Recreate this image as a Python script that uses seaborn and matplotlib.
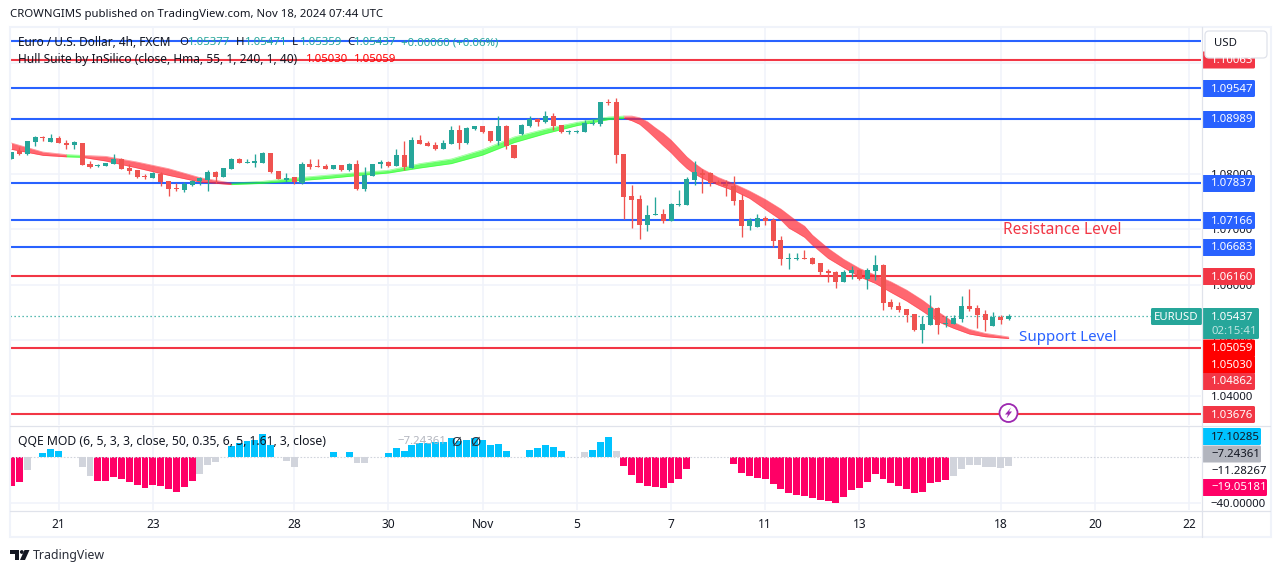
import matplotlib
matplotlib.use("Agg")
import matplotlib.pyplot as plt
import matplotlib.patches as mpatches
import numpy as np
import pandas as pd
import seaborn as sns

# Candles
opens = [1.08263, 1.08407, 1.08347, 1.08563, 1.08659, 1.08563, 1.08635, 1.08557, 1.08515, 1.08557,
         1.08173, 1.08137, 1.08137, 1.08173, 1.08257, 1.08095, 1.08059, 1.07945, 1.07915, 1.07999,
         1.07867, 1.07735, 1.07699, 1.07789, 1.07873, 1.07891, 1.08029, 1.07933, 1.08083, 1.08263,
         1.08191, 1.08191, 1.08197, 1.08365, 1.08041, 1.07879, 1.07933, 1.07837, 1.08167, 1.08125,
         1.08137, 1.08083, 1.08149, 1.08059, 1.08167, 1.07729, 1.07957, 1.08167, 1.08209, 1.08131,
         1.08329, 1.08107, 1.08599, 1.08545, 1.08509, 1.08443, 1.08533, 1.08779, 1.08551, 1.08803,
         1.08851, 1.08761, 1.08581, 1.08851, 1.08509, 1.08707, 1.08851, 1.08977, 1.08929, 1.09031,
         1.08869, 1.08743, 1.08743, 1.08743, 1.08887, 1.08887, 1.09289, 1.09283, 1.08347, 1.07591,
         1.07537, 1.07069, 1.07249, 1.07267, 1.07141, 1.07429, 1.07429, 1.07879, 1.08005, 1.08005,
         1.07843, 1.07807, 1.07771, 1.07519, 1.07051, 1.07033, 1.07195, 1.07159, 1.06799, 1.06463,
         1.06463, 1.06469, 1.06475, 1.06385, 1.06241, 1.06223, 1.06043, 1.06205, 1.06259, 1.06097,
         1.06241, 1.06349, 1.05683, 1.05611, 1.05557, 1.05467, 1.05179, 1.05269, 1.05575, 1.05287,
         1.05287, 1.05377, 1.05611, 1.05575, 1.05467, 1.05251, 1.05413, 1.05377]
highs = [1.08383, 1.08479, 1.08581, 1.08671, 1.08683, 1.08707, 1.08671, 1.08611, 1.08587, 1.08557,
         1.08221, 1.08179, 1.08197, 1.08359, 1.08287, 1.08179, 1.08071, 1.07987, 1.08035, 1.08023,
         1.07867, 1.07831, 1.07843, 1.07891, 1.07939, 1.08059, 1.08041, 1.08101, 1.08275, 1.08275,
         1.08263, 1.08347, 1.08389, 1.08365, 1.08041, 1.08005, 1.07945, 1.08203, 1.08257, 1.08257,
         1.08179, 1.08149, 1.08161, 1.08185, 1.08239, 1.08119, 1.08173, 1.08251, 1.08233, 1.08437,
         1.08581, 1.08659, 1.08689, 1.08581, 1.08563, 1.08611, 1.08851, 1.08869, 1.08833, 1.08851,
         1.08863, 1.08761, 1.09031, 1.08869, 1.08509, 1.08887, 1.09031, 1.08995, 1.09121, 1.09085,
         1.08869, 1.08785, 1.08785, 1.08959, 1.08989, 1.09283, 1.09337, 1.09355, 1.08347, 1.07789,
         1.07609, 1.07429, 1.07573, 1.07357, 1.07465, 1.07699, 1.07933, 1.08221, 1.08077, 1.08023,
         1.07879, 1.07879, 1.07951, 1.07627, 1.07195, 1.07267, 1.07231, 1.07195, 1.06871, 1.06565,
         1.06565, 1.06619, 1.06493, 1.06385, 1.06277, 1.06241, 1.06259, 1.06331, 1.06277, 1.06295,
         1.06529, 1.06367, 1.05737, 1.05683, 1.05557, 1.05467, 1.05431, 1.05809, 1.05593, 1.05431,
         1.05449, 1.05791, 1.05917, 1.05629, 1.05539, 1.05503, 1.05449, 1.05471]
lows = [1.08263, 1.08329, 1.08335, 1.08491, 1.08587, 1.08563, 1.08551, 1.08443, 1.08437, 1.08155,
        1.08107, 1.08113, 1.08137, 1.08173, 1.08083, 1.07987, 1.07927, 1.07897, 1.07915, 1.07777,
        1.07597, 1.07687, 1.07675, 1.07783, 1.07789, 1.07687, 1.07831, 1.07933, 1.08083, 1.08185,
        1.08191, 1.08119, 1.08191, 1.08011, 1.07897, 1.07849, 1.07813, 1.07819, 1.08077, 1.08113,
        1.08077, 1.08083, 1.08053, 1.08047, 1.07699, 1.07681, 1.07957, 1.08101, 1.08119, 1.08131,
        1.08059, 1.08095, 1.08533, 1.08491, 1.08425, 1.08443, 1.08533, 1.08443, 1.08533, 1.08779,
        1.08731, 1.08563, 1.08515, 1.08443, 1.08281, 1.08689, 1.08833, 1.08851, 1.08911, 1.08779,
        1.08731, 1.08713, 1.08731, 1.08743, 1.08869, 1.08851, 1.09229, 1.08185, 1.07177, 1.07015,
        1.06817, 1.06961, 1.07249, 1.07105, 1.07141, 1.07411, 1.07429, 1.07789, 1.07645, 1.07771,
        1.07807, 1.07591, 1.07429, 1.06853, 1.06979, 1.07033, 1.07069, 1.06673, 1.06349, 1.06277,
        1.06439, 1.06457, 1.06367, 1.06151, 1.06043, 1.05935, 1.06043, 1.06097, 1.06079, 1.05917,
        1.06079, 1.05539, 1.05557, 1.05503, 1.05323, 1.05161, 1.04945, 1.05269, 1.05107, 1.05233,
        1.05287, 1.05323, 1.05521, 1.05215, 1.05161, 1.05251, 1.05287, 1.05359]
closes = [1.08383, 1.08347, 1.08581, 1.08659, 1.08635, 1.08635, 1.08551, 1.08509, 1.08563, 1.08155,
          1.08119, 1.08155, 1.08185, 1.08257, 1.08083, 1.08047, 1.07939, 1.07933, 1.08011, 1.07849,
          1.07717, 1.07723, 1.07819, 1.07873, 1.07921, 1.08029, 1.07933, 1.08095, 1.08263, 1.08191,
          1.08203, 1.08221, 1.08371, 1.08023, 1.07897, 1.07927, 1.07849, 1.08179, 1.08119, 1.08113,
          1.08083, 1.08149, 1.08059, 1.08173, 1.07729, 1.07969, 1.08173, 1.08215, 1.08131, 1.08329,
          1.08119, 1.08599, 1.08533, 1.08497, 1.08443, 1.08545, 1.08779, 1.08551, 1.08815, 1.08851,
          1.08749, 1.08581, 1.08851, 1.08497, 1.08281, 1.08869, 1.08977, 1.08929, 1.09031, 1.08851,
          1.08743, 1.08755, 1.08755, 1.08905, 1.08905, 1.09283, 1.09271, 1.08329, 1.07573, 1.07519,
          1.07069, 1.07249, 1.07267, 1.07141, 1.07447, 1.07447, 1.07897, 1.08023, 1.07981, 1.07825,
          1.07807, 1.07771, 1.07501, 1.07051, 1.07159, 1.07195, 1.07141, 1.06781, 1.06457, 1.06475,
          1.06475, 1.06457, 1.06367, 1.06223, 1.06205, 1.06043, 1.06223, 1.06259, 1.06097, 1.06259,
          1.06349, 1.05665, 1.05593, 1.05539, 1.05449, 1.05179, 1.05287, 1.05575, 1.05269, 1.05305,
          1.05395, 1.05611, 1.05557, 1.05449, 1.05359, 1.05413, 1.05359, 1.05437]

# Hull Suite ribbon, the two edges at some bars
hma_bars = [0, 4, 7, 9, 12, 16, 20, 24, 28, 32, 36, 40, 44, 48, 52, 56, 60, 64, 68, 72, 76,
            78, 79, 80, 81, 82, 83, 84, 85, 86, 87, 88, 90, 92, 94, 96, 98, 99, 100, 101, 102,
            104, 106, 108, 110, 112, 114, 116, 118, 120, 122, 124, 127]
hma_top = [1.08551, 1.08389, 1.08342, 1.08329, 1.08311, 1.08209, 1.08090, 1.07928, 1.07831, 1.07861,
           1.07921, 1.07969, 1.08018, 1.08059, 1.08180, 1.08263, 1.08432, 1.08659, 1.08803, 1.08923, 1.09019,
           1.09037, 1.09037, 1.09007, 1.08935, 1.08826, 1.08726, 1.08605, 1.08456, 1.08304, 1.08185,
           1.08083, 1.07933, 1.07818, 1.07687, 1.07537, 1.07362, 1.07254, 1.07146, 1.07056, 1.06894,
           1.06655, 1.06457, 1.06295, 1.06174, 1.06053, 1.05904, 1.05724, 1.05513, 1.05322, 1.05196,
           1.05124, 1.05059]
hma_bot = [1.08437, 1.08329, 1.08302, 1.08293, 1.08227, 1.08101, 1.07969, 1.07849, 1.07802, 1.07825,
           1.07867, 1.07910, 1.07964, 1.08011, 1.08101, 1.08180, 1.08335, 1.08558, 1.08720, 1.08864, 1.08972,
           1.08996, 1.08953, 1.08888, 1.08767, 1.08636, 1.08503, 1.08376, 1.08227, 1.08095, 1.07993,
           1.07915, 1.07795, 1.07692, 1.07555, 1.07357, 1.07164, 1.07020, 1.06939, 1.06853, 1.06714,
           1.06475, 1.06305, 1.06143, 1.06024, 1.05862, 1.05706, 1.05525, 1.05333, 1.05214, 1.05111,
           1.05063, 1.05030]

# Horizontal levels
blue_levels = [1.10388, 1.09547, 1.08989, 1.07837, 1.07166, 1.06683]
red_levels = [1.10046, 1.06160, 1.04862, 1.03676]
last_price = 1.05437

# QQE MOD histogram, 0 = no bar
qqe_values = [-24.8, -21.3, -11, 0, 3.7, 7.2, 5.5, 0, 0, -8.4,
              -16, -20.5, -20.5, -17, -18.7, -21.3, -24, -26.5, -24, -24.8,
              -27.4, -30, -25.6, -20.5, -14.4, -6.6, -4, 0, 9.8, 12.4,
              14.1, 15, 20.2, 10.7, 0, -3.2, -8.4, 0, 0, 0,
              0, 4.6, 0, 4.6, -4.9, -4.9, 0, 0, 3.7, 8,
              5.5, 10.7, 12.4, 12.4, 13.3, 13.3, 16.7, 14.1, 15, 16.7,
              15, 10.7, 11.5, 5.5, 0, 0, 6.3, 8, 10.7, 8.9,
              5.5, 0, 0, 4.6, 6.3, 13.3, 17.6, 5.5, -7.5, -15.3,
              -22.2, -24.8, -25.6, -26.5, -22.2, -18.7, -10, 0, 0, 0,
              0, 0, -5.8, -13.5, -16.1, -17.9, -18.7, -23, -27.4, -30.8,
              -32.6, -33.4, -35.2, -36.9, -37.8, -39.5, -34.3, -28.2, -26.5, -21.3,
              -14.4, -18.7, -22.2, -24.8, -27.4, -30.8, -30, -22.2, -21.3, -19.6,
              -16.1, -10, -6.6, -6.6, -8.4, -8.4, -9.2, -7.5]
# p = pink, b = blue, g = grey, n = none
qqe_kinds = list("ppgnbbbnngg" + "p" * 13 + "gggn" + "bbbbbb" + "n" + "gg" + "nnnn" + "bnb" + "gg" + "nn"
                 + "b" * 16 + "nn" + "bbbbb" + "nn" + "g" + "bbb" + "g" + "p" * 9 + "n" * 5 + "p" * 28 + "g" * 8)

date_bars = [6, 18, 36, 48, 60, 72, 84, 96, 108, 126, 138, 150]
date_labels = ["21", "23", "28", "30", "Nov", "5", "7", "11", "13", "18", "20", "22"]
price_ticks = [1.10, 1.08, 1.07, 1.06, 1.05, 1.04]

UP = "#26a69a"
DOWN = "#ef5350"
BLUE = "#2962ff"
RED = "#f23645"
INK = "#131722"
GRID = "#f0f3fa"
EDGE = "#e0e3eb"

sns.set_theme(style="white")
plt.rcParams["font.family"] = ["Noto Sans", "DejaVu Sans"]

W, H = 1281, 573
fig = plt.figure(figsize=(W / 100, H / 100), dpi=100, facecolor="white")


# axes placed by pixel box
def pane(x0, y0, x1, y1):
    return fig.add_axes([x0 / W, 1 - y1 / H, (x1 - x0) / W, (y1 - y0) / H])


ax = pane(10, 27, 1201, 425)
qq = pane(10, 426, 1201, 510)

bars = np.arange(len(opens))
opens_a, highs_a, lows_a, closes_a = map(np.array, (opens, highs, lows, closes))
up = closes_a >= opens_a

# price pane
for lvl in blue_levels:
    ax.axhline(lvl, color=BLUE, lw=1.5, zorder=2)
for lvl in red_levels:
    ax.axhline(lvl, color=RED, lw=1.5, zorder=2)
ax.axhline(last_price, color=UP, lw=0.9, ls=(0, (1, 2.2)), zorder=2)

hma = pd.DataFrame({"bar": hma_bars, "top": hma_top, "bot": hma_bot})
segments = [(0, 7, "#ff1f2d"), (7, 9, "#22ff22"), (9, 28, "#ff1f2d"), (28, 78, "#22ff22"), (78, 127, "#ff1f2d")]
for start, stop, col in segments:
    part = hma[(hma["bar"] >= start) & (hma["bar"] <= stop)]
    ax.fill_between(part["bar"], part["bot"], part["top"], color=col, alpha=0.68, lw=0, zorder=3)
    sns.lineplot(data=part, x="bar", y="top", color=col, alpha=0.5, lw=0.5, ax=ax, zorder=3, estimator=None)
    sns.lineplot(data=part, x="bar", y="bot", color=col, alpha=0.5, lw=0.5, ax=ax, zorder=3, estimator=None)

colors = np.where(up, UP, DOWN)
ax.vlines(bars, lows_a, highs_a, colors=colors, lw=0.95, zorder=4)
body_low = np.minimum(opens_a, closes_a)
body_h = np.maximum(np.abs(closes_a - opens_a), 0.00016)
ax.bar(bars, body_h, bottom=body_low, width=0.64, color=colors, lw=0, zorder=4)

ax.set_xlim(-0.19, 151.5)
ax.set_ylim(1.03473, 1.10640)
ax.set_xlabel("")
ax.set_ylabel("")
ax.set_xticks(date_bars)
ax.set_xticklabels([])
ax.yaxis.tick_right()
ax.set_yticks(price_ticks)
ax.set_yticklabels([f"{t:.5f}" for t in price_ticks], fontsize=8.2, color=INK)
ax.tick_params(axis="both", length=0, pad=7)
ax.grid(True, color=GRID, lw=1.1, zorder=0)
ax.set_axisbelow(True)
sns.despine(ax=ax, left=True, right=True, top=True, bottom=True)

# QQE pane
qqe = pd.DataFrame({"bar": bars, "value": qqe_values, "kind": qqe_kinds})
qqe = qqe[qqe["kind"] != "n"]
sns.barplot(data=qqe, x="bar", y="value", hue="kind", palette={"p": "#ff0066", "b": "#00c3ff", "g": "#d1d4dc"},
            native_scale=True, dodge=False, width=0.88, linewidth=0, orient="x", errorbar=None,
            saturation=1, legend=False, ax=qq, zorder=3)
qq.axhline(0, color="#d1d4dc", lw=0.8, ls=(0, (1.5, 1.5)), zorder=4)
qq.set_xlim(-0.19, 151.5)
qq.set_ylim(-45.8, 27.2)
qq.set_xlabel("")
qq.set_ylabel("")
qq.set_xticks(date_bars)
qq.set_xticklabels(date_labels, fontsize=8.6, color=INK)
qq.get_xticklabels()[4].set_fontweight("semibold")
qq.yaxis.tick_right()
qq.set_yticks([-40])
qq.set_yticklabels(["\u221240.00000"], fontsize=8.2, color=INK)
qq.tick_params(axis="y", length=0, pad=7)
qq.tick_params(axis="x", length=0, pad=6)
qq.grid(True, color=GRID, lw=1.1, zorder=0)
qq.set_axisbelow(True)
sns.despine(ax=qq, left=True, right=True, top=True, bottom=True)

# overlay in pixel coordinates for the chart furniture
ov = fig.add_axes([0, 0, 1, 1], zorder=10)
ov.set_xlim(0, W)
ov.set_ylim(H, 0)
ov.axis("off")
ov.patch.set_visible(False)


def label(x, y, s, color=INK, size=8.2, ha="left", **kw):
    return ov.text(x, y + 0.8, s, color=color, fontsize=size, ha=ha, va="center", **kw)


def tag(y0, y1, s, bg, fg="white", x0=1202, x1=1255, tx=1211):
    ov.add_patch(mpatches.FancyBboxPatch((x0, y0), x1 - x0, y1 - y0, boxstyle="round,pad=0,rounding_size=1.5",
                                         fc=bg, ec="none"))
    label(tx, (y0 + y1) / 2 - 0.3, s, color=fg)


# outer frame and separators
ov.add_patch(mpatches.Rectangle((9.5, 26.5), 1261, 510.5, fc="none", ec=GRID, lw=1.5))
ov.plot([1201.5, 1201.5], [27, 537], color=EDGE, lw=0.9)
ov.plot([10, 1270], [425.5, 425.5], color=EDGE, lw=0.9)
ov.plot([10, 1270], [510.5, 510.5], color=EDGE, lw=0.9)

label(10, 14, "CROWNGIMS published on TradingView.com, Nov 18, 2024 07:44 UTC", size=8.2)

label(18, 42, "Euro / U.S. Dollar, 4h, FXCM", size=8.5)
for x, s, c in [(179, "O", INK), (188, "1.05377", UP), (236, "H", INK), (245, "1.05471", UP),
                (292, "L", INK), (300, "1.05359", UP), (347, "C", INK), (354, "1.05437", UP),
                (401, "+0.00060 (+0.06%)", UP)]:
    label(x, 42, s, color=c, size=8.2)
label(18, 59, "Hull Suite by InSilico (close, Hma, 55, 1, 240, 1, 40)", size=8.6)
label(306, 59, "1.05030", color="#ff0000", size=8.2)
label(354, 59, "1.05059", color="#ff0000", size=8.2)

label(18, 441, "QQE MOD (6, 5, 3, 3, close, 50, 0.35, 6, 5, 1.61, 3, close)", size=8.8)
label(397, 441, "\u22127.24361", color="#b2b5be", size=8.2)
label(456, 441, "\u00d8", color="#2a2e39", size=9.5, ha="center")
label(475, 441, "\u00d8", color="#2a2e39", size=9.5, ha="center")

label(1003, 229.5, "Resistance Level", color=RED, size=11.1)
label(1019, 336.5, "Support Level", color=BLUE, size=10.9)

# price tags
tag(51.5, 68.5, "1.10063", RED)
ov.add_patch(mpatches.FancyBboxPatch((1205, 31), 62, 27, boxstyle="round,pad=0,rounding_size=4",
                                     fc="white", ec=EDGE, lw=0.9))
label(1214, 43, "USD", size=8.2)
tag(80, 97, "1.09547", BLUE)
tag(111, 128, "1.08989", BLUE)
tag(175, 192, "1.07837", BLUE)
tag(212, 229, "1.07166", BLUE)
tag(239, 256, "1.06683", BLUE)
tag(268, 285, "1.06160", RED)

ov.add_patch(mpatches.FancyBboxPatch((1151, 308), 51, 17, boxstyle="round,pad=0,rounding_size=1.5", fc=UP, ec="none"))
label(1176.5, 316.2, "EURUSD", color="white", ha="center")
ov.add_patch(mpatches.FancyBboxPatch((1202, 308), 57, 31, boxstyle="round,pad=0,rounding_size=1.5", fc=UP, ec="none"))
label(1211, 316.2, "1.05437", color="white")
label(1211, 331, "02:15:41", color="#bfe5e1")

tag(339.5, 357, "1.05059", "#ff0000")
tag(356, 374, "1.05030", "#ff0000")
tag(373, 390, "1.04862", RED)
tag(406, 423, "1.03676", RED)
tag(428, 445, "17.10285", "#00c3ff", fg=INK, x1=1261)
tag(445.5, 462.5, "\u22127.24361", "#b2b5be", fg=INK, x1=1261)
label(1211, 470.5, "\u221211.28267")
tag(479, 496, "\u221219.05181", "#ff0066", x1=1267)

# alert icon on the lowest level
ov.add_patch(mpatches.Circle((1008.5, 413), 9, fc="white", ec="#9c27b0", lw=1.3))
ov.add_patch(mpatches.Polygon([(1011, 407.5), (1005, 414.5), (1008, 414.5), (1006.5, 418.5), (1012, 411.5), (1009, 411.5)],
                              closed=True, fc="#9c27b0", ec="none"))

# TradingView mark
ov.add_patch(mpatches.Polygon([(10, 550), (19, 550), (19, 560), (14.5, 560), (14.5, 553.5), (10, 553.5)], closed=True,
                              fc=INK, ec="none"))
ov.add_patch(mpatches.Circle((21.8, 552), 1.9, fc=INK, ec="none"))
ov.add_patch(mpatches.Polygon([(24.5, 550), (29.5, 550), (25, 560), (20, 560)], closed=True, fc=INK, ec="none"))
label(33, 555, "TradingView", size=8.9, color="#2a2e39")

fig.savefig("out.png", dpi=100, facecolor="white")
plt.close(fig)
